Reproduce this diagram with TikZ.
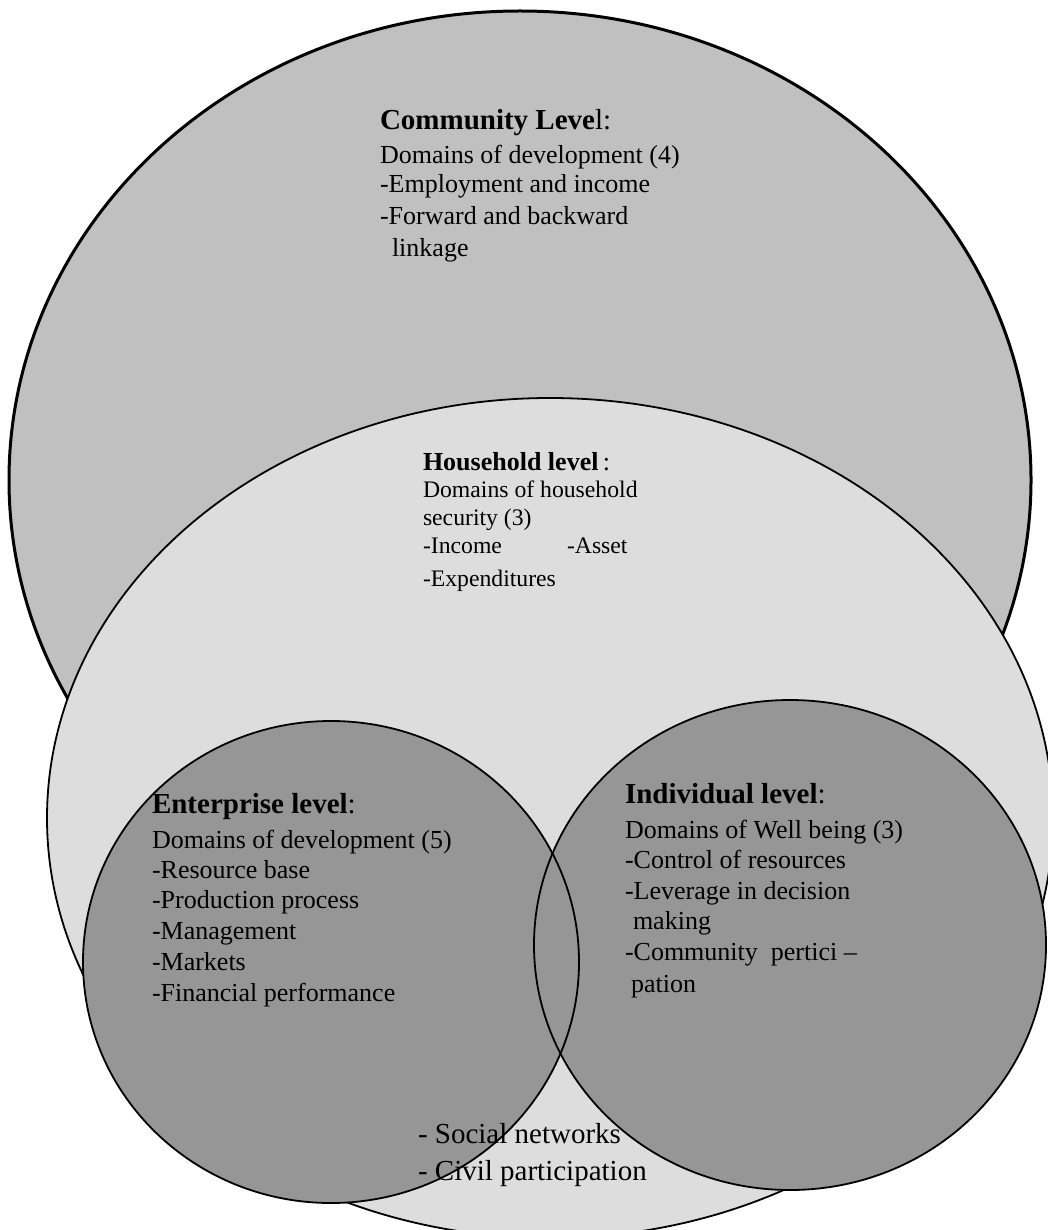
\documentclass[tikz,border=0pt]{standalone}
\usepackage{fontspec}
\setmainfont{Liberation Serif}
\definecolor{commgray}{RGB}{192,192,192}
\definecolor{hhgray}{RGB}{221,221,221}
\definecolor{levgray}{RGB}{150,150,150}
\tikzset{
  txt/.style={anchor=base west, inner sep=0pt, outer sep=0pt, font=\fontsize{26}{31}\selectfont},
  hd/.style={anchor=base west, inner sep=0pt, outer sep=0pt, font=\fontsize{29}{34}\selectfont\bfseries},
  hhtxt/.style={anchor=base west, inner sep=0pt, outer sep=0pt, font=\fontsize{23.7}{28}\selectfont},
  hhhd/.style={anchor=base west, inner sep=0pt, outer sep=0pt, font=\fontsize{26}{31}\selectfont\bfseries},
  soc/.style={anchor=base west, inner sep=0pt, outer sep=0pt, font=\fontsize{29}{34}\selectfont},
  thickline/.style={line width=3pt},
  thinline/.style={line width=1.8pt}
}
\begin{document}
\begin{tikzpicture}[x=1pt,y=-1pt]
\useasboundingbox (0,0) rectangle (1048,1230);
% shapes
\filldraw[fill=commgray, thickline] (520,480) ellipse [x radius=511pt, y radius=469pt];
\filldraw[fill=hhgray, thinline] (550,818) ellipse [x radius=503pt, y radius=420pt];
\fill[levgray] (331,962) ellipse [x radius=248pt, y radius=241pt];
\fill[levgray] (790,945) ellipse [x radius=256pt, y radius=245pt];
\draw[thinline] (331,962) ellipse [x radius=248pt, y radius=241pt];
\draw[thinline] (790,945) ellipse [x radius=256pt, y radius=245pt];
% community
\node[hd] (c0) at (380,130) {Community Leve{\mdseries l:}};
\node[txt] (c1) at (380,164) {Domains of development (4)};
\node[txt] (c2) at (380,193) {-Employment and income};
\node[txt] (c3) at (380,225) {-Forward and backward};
\node[txt] (c4) at (392,257) {linkage};
% household
\node[hhhd] (h0) at (423,470) {Household level\,{\mdseries :}};
\node[hhtxt] (h1) at (423,497) {Domains of household};
\node[hhtxt] (h2) at (423,525) {security (3)};
\node[hhtxt] (h3) at (423,553) {-Income};
\node[hhtxt] (h4) at (567,553) {-Asset};
\node[hhtxt] (h5) at (423,586) {-Expenditures};
% enterprise
\node[hd] (e0) at (152,813) {Enterprise level{\mdseries :}};
\node[txt] (e1) at (152,848) {Domains of development (5)};
\node[txt] (e2) at (152,878) {-Resource base};
\node[txt] (e3) at (152,908) {-Production process};
\node[txt] (e4) at (152,939) {-Management};
\node[txt] (e5) at (152,970) {-Markets};
\node[txt] (e6) at (152,1001) {-Financial performance};
% individual
\node[hd] (i0) at (625,803) {Individual level{\mdseries :}};
\node[txt] (i1) at (625,838) {Domains of Well being (3)};
\node[txt] (i2) at (625,868) {-Control of resources};
\node[txt] (i3) at (625,899) {-Leverage in decision};
\node[txt] (i4) at (633,929) {making};
\node[txt] (i5) at (625,960) {-Community\ \ pertici –};
\node[txt] (i6) at (631,992) {pation};
% social
\node[soc] (s1) at (418,1143) {- Social networks};
\node[soc] (s2) at (418,1180) {- Civil participation};
\end{tikzpicture}
\end{document}
